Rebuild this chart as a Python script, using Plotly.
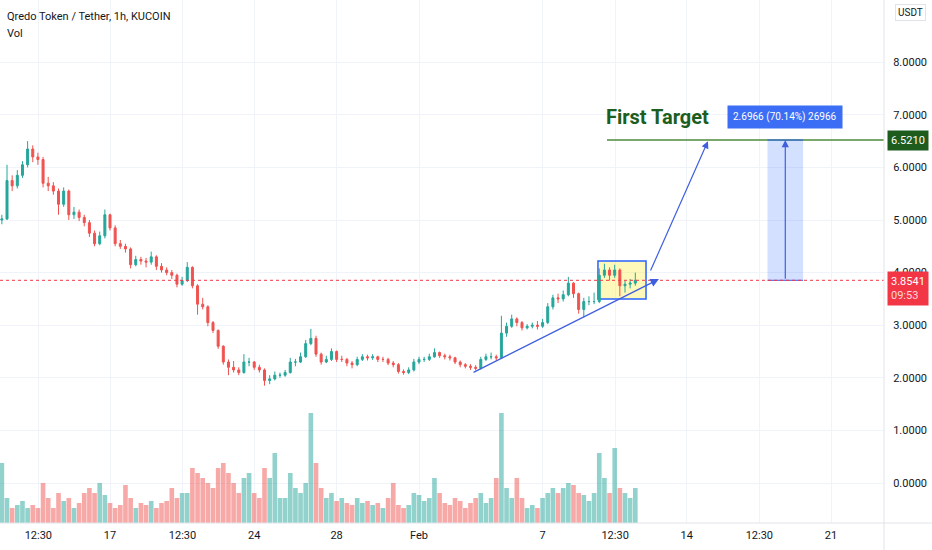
import pandas as pd
import plotly.graph_objects as go

# 6h candles
start = "2022-01-11 18:00"
closes = [5.02, 5.75, 5.65, 5.85, 6.05, 6.35, 6.20, 6.15, 5.70, 5.65,
          5.55, 5.30, 5.55, 5.10, 5.15, 5.05, 4.95, 4.75, 4.55, 4.70,
          5.10, 4.85, 4.55, 4.50, 4.45, 4.15, 4.25, 4.22, 4.20, 4.30,
          4.12, 4.05, 4.00, 3.95, 3.78, 3.85, 4.10, 3.75, 3.40, 3.35,
          3.05, 2.90, 2.60, 2.30, 2.20, 2.15, 2.10, 2.30, 2.30, 2.20,
          2.15, 1.95, 1.98, 2.05, 2.05, 2.10, 2.30, 2.30, 2.40, 2.65,
          2.75, 2.45, 2.30, 2.35, 2.50, 2.35, 2.35, 2.28, 2.25, 2.35,
          2.40, 2.38, 2.40, 2.35, 2.35, 2.28, 2.25, 2.12, 2.10, 2.15,
          2.30, 2.35, 2.35, 2.40, 2.48, 2.42, 2.40, 2.38, 2.30, 2.25,
          2.22, 2.20, 2.18, 2.35, 2.40, 2.40, 2.38, 2.85, 2.98, 3.12,
          3.05, 2.95, 2.98, 3.00, 2.98, 3.05, 3.35, 3.52, 3.50, 3.58,
          3.80, 3.60, 3.30, 3.45, 3.45, 3.45, 3.95, 4.05, 3.95, 4.05,
          3.75, 3.78, 3.80, 3.8541]
first_open = 5.00
highs = [5.10, 6.05, 5.85, 5.95, 6.12, 6.50, 6.42, 6.28, 6.20, 5.82,
         5.72, 5.60, 5.62, 5.58, 5.25, 5.20, 5.10, 5.00, 4.80, 4.78,
         5.20, 5.12, 4.90, 4.62, 4.55, 4.48, 4.32, 4.30, 4.28, 4.40,
         4.33, 4.18, 4.10, 4.05, 3.98, 3.92, 4.20, 4.12, 3.78, 3.52,
         3.38, 3.08, 2.92, 2.62, 2.35, 2.32, 2.20, 2.45, 2.38, 2.32,
         2.25, 2.18, 2.05, 2.12, 2.10, 2.15, 2.38, 2.36, 2.48, 2.72,
         2.93, 2.80, 2.48, 2.42, 2.56, 2.52, 2.42, 2.38, 2.32, 2.40,
         2.45, 2.44, 2.45, 2.42, 2.40, 2.38, 2.32, 2.28, 2.16, 2.20,
         2.36, 2.40, 2.40, 2.46, 2.56, 2.50, 2.46, 2.44, 2.40, 2.33,
         2.28, 2.26, 2.24, 2.40, 2.46, 2.48, 2.44, 3.18, 3.05, 3.20,
         3.15, 3.08, 3.02, 3.05, 3.08, 3.12, 3.42, 3.58, 3.60, 3.66,
         3.92, 3.82, 3.62, 3.52, 3.55, 3.62, 4.08, 4.17, 4.10, 4.15,
         4.08, 3.85, 3.88, 4.00]
lows = [4.92, 5.00, 5.55, 5.60, 5.80, 6.00, 6.10, 6.05, 5.62, 5.55,
        5.48, 5.10, 5.25, 5.00, 5.02, 4.98, 4.88, 4.68, 4.50, 4.52,
        4.65, 4.80, 4.50, 4.45, 4.38, 4.08, 4.12, 4.15, 4.10, 4.15,
        4.05, 4.00, 3.95, 3.88, 3.72, 3.75, 3.82, 3.70, 3.20, 3.30,
        2.98, 2.85, 2.55, 2.25, 2.05, 2.10, 2.05, 2.08, 2.22, 2.15,
        2.10, 1.85, 1.88, 1.95, 2.00, 2.02, 2.08, 2.22, 2.28, 2.38,
        2.62, 2.40, 2.25, 2.28, 2.32, 2.30, 2.30, 2.22, 2.18, 2.22,
        2.32, 2.33, 2.34, 2.30, 2.30, 2.24, 2.20, 2.08, 2.06, 2.07,
        2.12, 2.26, 2.30, 2.32, 2.38, 2.38, 2.35, 2.33, 2.26, 2.20,
        2.18, 2.15, 2.14, 2.16, 2.32, 2.35, 2.33, 2.36, 2.78, 2.95,
        2.98, 2.90, 2.92, 2.94, 2.92, 2.95, 3.02, 3.30, 3.42, 3.45,
        3.55, 3.52, 3.22, 3.15, 3.38, 3.40, 3.42, 3.90, 3.85, 3.90,
        3.55, 3.62, 3.70, 3.75]
volumes = [60, 25, 15, 18, 22, 15, 18, 15, 40, 25,
           15, 30, 22, 25, 15, 20, 30, 35, 30, 40,
           28, 20, 15, 18, 38, 25, 15, 20, 18, 22,
           15, 20, 22, 35, 25, 30, 30, 55, 50, 45,
           40, 35, 55, 60, 50, 40, 30, 45, 50, 30,
           25, 55, 45, 70, 25, 25, 50, 35, 30, 40,
           110, 60, 35, 25, 30, 22, 25, 20, 18, 25,
           20, 22, 18, 20, 15, 25, 40, 18, 15, 18,
           30, 28, 22, 25, 45, 30, 20, 18, 25, 22,
           15, 20, 25, 30, 20, 25, 45, 110, 35, 25,
           45, 25, 15, 18, 15, 25, 30, 35, 30, 35,
           40, 38, 30, 28, 22, 30, 70, 45, 30, 75,
           35, 30, 25, 35]

tick_dates = ["2022-01-13 12:30", "2022-01-17", "2022-01-20 12:30", "2022-01-24",
              "2022-01-28", "2022-02-01", "2022-02-07", "2022-02-10 12:30",
              "2022-02-14", "2022-02-17 12:30", "2022-02-21"]
tick_text = ["12:30", "17", "12:30", "24", "28", "Feb", "7", "12:30", "14", "12:30", "21"]
price_ticks = [0, 1, 2, 3, 4, 5, 6, 7, 8]

last_price = 3.8541
target = 6.5210

times = pd.date_range(start, periods=len(closes), freq="6h")
opens = [first_open] + closes[:-1]
UP, DOWN = "#26a69a", "#ef5350"
vol_colors = ["rgba(38,166,154,0.5)" if c >= o else "rgba(239,83,80,0.5)"
              for o, c in zip(opens, closes)]

fig = go.Figure()
fig.add_trace(go.Bar(x=times, y=volumes, marker_color=vol_colors, marker_line_width=0,
                     yaxis="y2", showlegend=False, hoverinfo="skip"))
fig.add_trace(go.Candlestick(x=times, open=opens, high=highs, low=lows, close=closes,
                             increasing=dict(line=dict(color=UP, width=1), fillcolor=UP),
                             decreasing=dict(line=dict(color=DOWN, width=1), fillcolor=DOWN),
                             whiskerwidth=0, showlegend=False))

BLUE = "#2962ff"
X_END = "2022-02-24"
shapes = [
    # yellow consolidation box
    dict(type="rect", x0="2022-02-09 16:30", x1="2022-02-12 00:30", y0=3.50, y1=4.22,
         fillcolor="rgba(255,235,59,0.35)", line=dict(color=BLUE, width=1.5), layer="between"),
    # first target horizontal ray
    dict(type="line", x0="2022-02-10 03:00", x1=X_END, y0=target, y1=target,
         line=dict(color="#4e8a3a", width=1.5)),
    # price range box
    dict(type="rect", x0="2022-02-17 22:00", x1="2022-02-19 15:30", y0=last_price, y1=target,
         fillcolor="rgba(41,98,255,0.2)", line_width=0, layer="between"),
    dict(type="line", x0="2022-02-17 22:00", x1="2022-02-19 15:30", y0=target, y1=target,
         line=dict(color=BLUE, width=1)),
    dict(type="line", x0="2022-02-17 22:00", x1="2022-02-19 15:30", y0=last_price, y1=last_price,
         line=dict(color=BLUE, width=1)),
    # last price dotted line
    dict(type="line", xref="paper", x0=0, x1=1, y0=last_price, y1=last_price,
         line=dict(color="#f23645", width=1, dash="dot")),
    # pane borders
    dict(type="line", xref="paper", yref="paper", x0=1, x1=1, y0=-0.1, y1=1,
         line=dict(color="#e0e3eb", width=1)),
    dict(type="line", xref="paper", yref="paper", x0=0, x1=1.06, y0=0, y1=0,
         line=dict(color="#e0e3eb", width=1)),
]

annotations = [
    dict(x="2022-02-12 15:30", y=3.878, ax="2022-02-03 13:45", ay=2.091, axref="x", ayref="y",
         text="", showarrow=True, arrowhead=2, arrowsize=1.2, arrowwidth=1.4, arrowcolor="#3f5fe0"),
    dict(x="2022-02-15 00:40", y=6.50, ax="2022-02-12 05:00", ay=4.01, axref="x", ayref="y",
         text="", showarrow=True, arrowhead=2, arrowsize=1.2, arrowwidth=1.2, arrowcolor="#3f5fe0"),
    dict(x="2022-02-18 18:45", y=target, ax="2022-02-18 18:45", ay=last_price, axref="x", ayref="y",
         text="", showarrow=True, arrowhead=2, arrowsize=1.2, arrowwidth=1.2, arrowcolor="#3f5fe0"),
    dict(x="2022-02-09 23:00", y=6.958, xanchor="left", yanchor="middle", text="<b>First Target</b>",
         showarrow=False, font=dict(family="Roboto", size=20, color="#1b5e20")),
    dict(x="2022-02-18 18:45", y=6.958, text="2.6966 (70.14%) 26966", showarrow=False,
         bgcolor="#3b6ef5", borderpad=5, font=dict(color="white", size=10)),
    dict(xref="paper", x=1.003, y=target, xanchor="left", text="6.5210", showarrow=False,
         bgcolor="#1e5c1e", borderpad=3, font=dict(color="white", size=11)),
    dict(xref="paper", x=1.003, y=last_price, xanchor="left", yanchor="top", yshift=9,
         text="3.8541<br><span style='color:#ffd6d9'>09:53</span>", align="left",
         showarrow=False, bgcolor="#f23645", borderpad=3, font=dict(color="white", size=11)),
    dict(xref="paper", yref="paper", x=1.012, y=0.992, xanchor="left", yanchor="top", text="USDT",
         showarrow=False, bgcolor="white", bordercolor="#e0e3eb", borderwidth=1, borderpad=2,
         font=dict(size=10, color="#131722")),
    dict(xref="paper", yref="paper", x=0.006, y=0.985, xanchor="left", yanchor="top",
         text="Qredo Token / Tether, 1h, KUCOIN", showarrow=False,
         font=dict(size=11, color="#131722")),
    dict(xref="paper", yref="paper", x=0.006, y=0.952, xanchor="left", yanchor="top",
         text="Vol", showarrow=False, font=dict(size=11, color="#131722")),
]

fig.update_layout(
    shapes=shapes, annotations=annotations,
    width=932, height=550,
    margin=dict(l=0, r=48, t=0, b=27),
    paper_bgcolor="white", plot_bgcolor="white",
    font=dict(family="Roboto", size=11, color="#131722"),
    bargap=0.1, boxgap=0.45,
    xaxis=dict(type="date", range=["2022-01-11 15:50", "2022-02-23 13:45"],
               tickvals=tick_dates, ticktext=tick_text, showgrid=True, gridcolor="#f0f3fa",
               rangeslider=dict(visible=False), zeroline=False, showline=False, ticks="",
               ticklabelstandoff=4),
    yaxis=dict(side="right", range=[-0.760, 9.183], tickvals=price_ticks, tickformat=".4f",
               showgrid=True, gridcolor="#f0f3fa", zeroline=False, ticks="outside",
               ticklen=6, tickcolor="white"),
    yaxis2=dict(overlaying="y", range=[0, 523], visible=False, showgrid=False),
)

# the page body has a default 8px margin; drop it so the chart fills the window
fig.write_html("out.html", config={"displayModeBar": False},
               post_script="document.body.style.margin='0px';")
